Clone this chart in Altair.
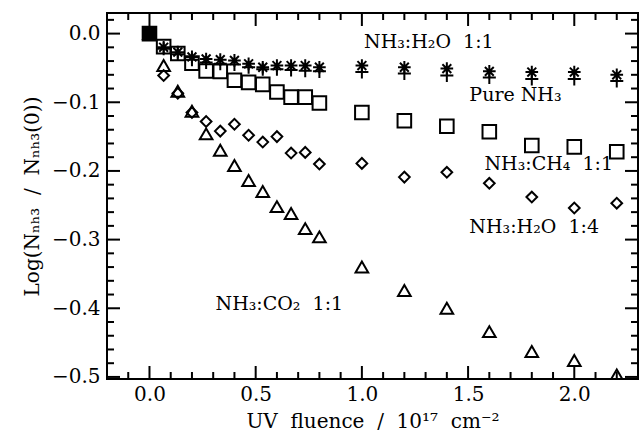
import altair as alt
import pandas as pd

# ---------------- data ----------------
fluence = [0.0, 0.0667, 0.1333, 0.2, 0.2667, 0.3333, 0.4, 0.4667, 0.5333, 0.6,
           0.6667, 0.7333, 0.8, 1.0, 1.2, 1.4, 1.6, 1.8, 2.0, 2.2]

h2o_11 = [0.0, -0.020, -0.027, -0.034, -0.037, -0.038, -0.039, -0.044, -0.049, -0.0465,
          -0.0465, -0.0465, -0.049, -0.0465, -0.049, -0.051, -0.055, -0.056, -0.056, -0.060]
pure_nh3 = [0.0, -0.022, -0.030, -0.038, -0.042, -0.044, -0.045, -0.049, -0.052, -0.052,
            -0.053, -0.054, -0.055, -0.056, -0.058, -0.061, -0.064, -0.066, -0.066, -0.069]
ch4_11 = [0.0, -0.019, -0.029, -0.043, -0.0545, -0.055, -0.068, -0.071, -0.074, -0.085,
          -0.0925, -0.0925, -0.101, -0.115, -0.127, -0.135, -0.143, -0.163, -0.165, -0.172]
h2o_14 = [0.0, -0.061, -0.087, -0.115, -0.128, -0.142, -0.132, -0.148, -0.158, -0.150,
          -0.174, -0.173, -0.190, -0.189, -0.209, -0.202, -0.218, -0.238, -0.254, -0.247]
co2_11 = [0.0, -0.0465, -0.084, -0.113, -0.146, -0.170, -0.192, -0.214, -0.230, -0.252,
          -0.262, -0.284, -0.296, -0.340, -0.374, -0.400, -0.434, -0.463, -0.476, -0.497]

SP = " \u00a0"
label_text = ["NH₃:H₂O" + SP + "1:1", "Pure NH₃", "NH₃:CH₄" + SP + "1:1",
              "NH₃:H₂O" + SP + "1:4", "NH₃:CO₂" + SP + "1:1"]
label_x = [1.01, 1.506, 1.577, 1.506, 0.311]
label_y = [-0.0203, -0.098, -0.199, -0.291, -0.402]

x_title = "UV" + SP + "fluence" + SP + "/" + SP + "10¹⁷" + SP + "cm⁻²"
y_title = "Log(Nₙₕ₃" + SP + "/" + SP + "Nₙₕ₃(0))"

x_major = [0.0, 0.5, 1.0, 1.5, 2.0]
x_minor = [-0.1, 0.1, 0.2, 0.3, 0.4, 0.6, 0.7, 0.8, 0.9, 1.1, 1.2, 1.3, 1.4,
           1.6, 1.7, 1.8, 1.9, 2.1, 2.2]
y_major = [0.0, -0.1, -0.2, -0.3, -0.4, -0.5]
y_minor = [0.02, -0.02, -0.04, -0.06, -0.08, -0.12, -0.14, -0.16, -0.18,
           -0.22, -0.24, -0.26, -0.28, -0.32, -0.34, -0.36, -0.38,
           -0.42, -0.44, -0.46, -0.48]

# ---------------- layout ----------------
W, H = 531, 366
MAJ, MIN = 13, 7
FONT = "DejaVu Serif"

xs = alt.Scale(domain=[-0.2, 2.3], nice=False, zero=False)
ys = alt.Scale(domain=[-0.503, 0.03], nice=False, zero=False)

x_axis = alt.Axis(values=x_major, format=".1f", title=x_title,
                  grid=False, ticks=False, tickSize=0, domain=False, labelPadding=5,
                  titleX=W / 2, titleY=42, titleBaseline="middle", titleAlign="center")
y_axis = alt.Axis(values=y_major, format=".1f", title=y_title,
                  grid=False, ticks=False, tickSize=0, domain=False, labelPadding=7,
                  titleX=-75, titleY=H / 2, titleAngle=270, titleBaseline="middle",
                  titleAlign="center")


def XE(field):
    return alt.X(field, scale=xs, axis=x_axis)


def YE(field):
    return alt.Y(field, scale=ys, axis=y_axis)


def series(vals, name):
    return pd.DataFrame({"x": fluence, "y": vals, "s": name})


def pts(df, shape, size, extra=None):
    enc = dict(x=XE("x:Q"), y=YE("y:Q"))
    if extra:
        enc.update(extra)
    return alt.Chart(df).mark_point(shape=shape, size=size, filled=False, color="black",
                                    strokeWidth=2, opacity=1, clip=True).encode(**enc)


ASTER = "M-1,0L1,0M0,-1L0,1M-0.7,-0.7L0.7,0.7M-0.7,0.7L0.7,-0.7"
PLUS = "M-1,0L1,0M0,-1L0,1"

layers = [
    pts(series(co2_11, "co2"), "triangle-up", 160),
    pts(series(h2o_14, "h2o14"), "diamond", 115),
    pts(series(pure_nh3, "pure"), PLUS, 170),
    pts(series(h2o_11, "h2o11"), ASTER, 160),
    pts(series(ch4_11, "ch4"), "square", 185,
        extra=dict(fill=alt.condition("datum.x == 0", alt.value("black"),
                                      alt.value("transparent")))),
]


def xticks(vals, length, top):
    df = pd.DataFrame({"v": vals})
    y0, y1 = (0, length) if top else (H, H - length)
    return alt.Chart(df).mark_rule(color="black", strokeWidth=2).encode(
        x=XE("v:Q"), y=alt.value(y0), y2=alt.value(y1))


def yticks(vals, length, right):
    df = pd.DataFrame({"v": vals})
    x0, x1 = (W, W - length) if right else (0, length)
    return alt.Chart(df).mark_rule(color="black", strokeWidth=2).encode(
        y=YE("v:Q"), x=alt.value(x0), x2=alt.value(x1))


ticks = [
    xticks(x_major, MAJ, False), xticks(x_minor, MIN, False),
    xticks(x_major, MAJ, True), xticks(x_minor, MIN, True),
    yticks(y_major, MAJ, False), yticks(y_minor, MIN, False),
    yticks(y_major, MAJ, True), yticks(y_minor, MIN, True),
]

labels_df = pd.DataFrame({"x": label_x, "y": label_y, "t": label_text})
labels = alt.Chart(labels_df).mark_text(align="left", baseline="alphabetic", font=FONT,
                                        fontSize=19, color="black").encode(
    x=XE("x:Q"), y=YE("y:Q"), text="t:N")

chart = alt.layer(*layers, *ticks, labels).properties(
    width=W, height=H,
    autosize=alt.AutoSizeParams(type="none"),
    padding={"left": 107, "top": 13, "right": 4, "bottom": 63},
    background="white",
).configure_view(stroke="black", strokeWidth=2).configure_axis(
    labelFont=FONT, labelFontSize=20, labelColor="black",
    titleFont=FONT, titleFontSize=20, titleColor="black", titleFontWeight="normal",
)

chart.save("out.html", embed_options={"renderer": "svg", "actions": False})
